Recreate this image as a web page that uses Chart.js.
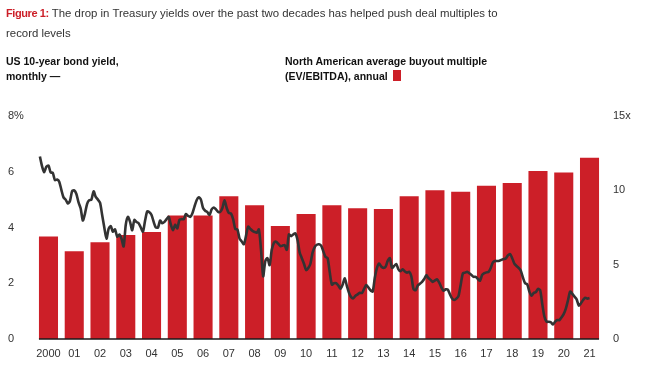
<!DOCTYPE html>
<html>
<head>
<meta charset="utf-8">
<script src="https://cdn.jsdelivr.net/npm/chart.js@4.4.0/dist/chart.umd.min.js"></script>
<style>
  body { margin: 0; background: #fff; }
  #wrap { position: relative; width: 645px; height: 369px; overflow: hidden; }
  #chart { position: absolute; left: 0; top: 0; }
  .title { position: absolute; left: 6px; top: 3px; width: 630px; font: 11.4px 'Liberation Sans', Arial, sans-serif; line-height: 20px; color: #333; }
  .title b { color: #cc1f28; font-size: 11px; letter-spacing: -0.4px; }
  .sub { position: absolute; top: 54px; font: bold 10.5px 'Liberation Sans', Arial, sans-serif; line-height: 15px; color: #111; }
  .swatch { display: inline-block; width: 8px; height: 11px; background: #cc1f28; vertical-align: -1px; margin-left: 2px; }
</style>
</head>
<body>
<div id="wrap">
  <canvas id="chart" width="645" height="369"></canvas>
  <div class="title"><b>Figure 1:</b> The drop in Treasury yields over the past two decades has helped push deal multiples to<br>record levels</div>
  <div class="sub" style="left:6px">US 10-year bond yield,<br>monthly &mdash;</div>
  <div class="sub" style="left:285px">North American average buyout multiple<br>(EV/EBITDA), annual <span class="swatch"></span></div>
</div>
<script>
// years on the category axis
const years = ['2000', '01', '02', '03', '04', '05', '06', '07', '08', '09', '10',
               '11', '12', '13', '14', '15', '16', '17', '18', '19', '20', '21'];

// buyout multiple (EV/EBITDA), one per year
const multiples = [6.9, 5.9, 6.5, 7.0, 7.2, 8.3, 8.3, 9.6, 9.0, 7.6, 8.4,
                   9.0, 8.8, 8.75, 9.6, 10.0, 9.9, 10.3, 10.5, 11.3, 11.2, 12.2];

// 10-year yield, monthly (%)
const firstMonth = 2; // months after Jan 2000
const yields = [
  6.55, 6.2, 5.98, 6.18, 6.22, 5.98, 5.96, 5.7, 5.72, 5.64, 5.35, 5.08,
  5.0, 4.86, 4.95, 5.3, 5.33, 5.2, 4.9, 4.68, 4.25, 4.5, 4.85, 4.98,
  5.0, 5.3, 5.1, 5.0, 4.89, 4.45, 4.0, 3.6, 3.95, 4.05, 3.85, 3.93,
  3.67, 3.75, 3.6, 3.32, 4.1, 4.38, 4.2, 3.9, 4.27, 4.2, 4.15, 4.0,
  3.85, 4.25, 4.58, 4.55, 4.45, 4.2, 4.0, 4.0, 4.25, 4.15, 4.2, 4.3,
  4.38, 4.1, 3.9, 4.1, 3.97, 4.28, 4.3, 4.3, 4.48, 4.42, 4.38, 4.5,
  4.75, 4.98, 5.08, 5.0, 4.7, 4.6, 4.55, 4.45, 4.65, 4.72, 4.65, 4.56,
  4.56, 4.7, 4.98, 4.7, 4.52, 4.5, 4.3, 3.95, 3.93, 3.6, 3.5, 3.4,
  3.7, 4.03, 3.95, 3.88, 3.84, 3.81, 3.93, 3.2, 2.25, 2.8, 2.9, 2.65,
  3.2, 3.45, 3.49, 3.42, 3.33, 3.35, 3.37, 3.2, 3.75, 3.69, 3.75, 3.79,
  3.55, 3.1, 2.9, 2.7, 2.47, 2.55, 2.7, 3.1, 3.3, 3.38, 3.4, 3.35,
  3.15, 2.95, 2.9, 2.4, 1.95, 2.0, 2.0, 1.92, 1.8, 1.95, 2.18, 1.9,
  1.65, 1.5, 1.46, 1.55, 1.6, 1.66, 1.65, 1.8, 1.94, 1.85, 1.75, 1.7,
  2.2, 2.55, 2.71, 2.6, 2.55, 2.59, 2.8, 2.9, 2.55, 2.62, 2.69, 2.5,
  2.43, 2.5, 2.42, 2.38, 2.41, 2.25, 1.8, 1.75, 1.92, 1.98, 2.05, 2.15,
  2.29, 2.18, 2.12, 2.05, 2.1, 2.14, 2.02, 1.85, 1.73, 1.78, 1.77, 1.6,
  1.45, 1.4, 1.45, 1.55, 1.95, 2.35, 2.38, 2.41, 2.36, 2.3, 2.23, 2.23,
  2.15, 2.09, 2.3, 2.36, 2.39, 2.41, 2.55, 2.75, 2.8, 2.8, 2.81, 2.84,
  2.87, 2.89, 3.0, 3.05, 2.9, 2.7, 2.62, 2.55, 2.45, 2.2, 2.0, 1.96,
  1.7, 1.55, 1.65, 1.68, 1.8, 1.75, 1.25, 0.8, 0.62, 0.62, 0.6, 0.52,
  0.62, 0.68, 0.68, 0.78, 0.9, 1.1, 1.4, 1.7, 1.62, 1.52, 1.42, 1.2,
  1.28, 1.4, 1.48, 1.45, 1.47
];

// tick labels
const yieldTicks = ['0', '2', '4', '6', '8%'];
const multipleTicks = ['0', '5', '10', '15x'];

const red = '#cc1f28';
const ink = '#333';

// black baseline under the bars
const baseline = {
  id: 'baseline',
  afterDatasetsDraw(chart) {
    const bars = chart.getDatasetMeta(1).data;
    if (!bars.length) return;
    const ctx = chart.ctx;
    const first = bars[0], last = bars[bars.length - 1];
    ctx.save();
    ctx.strokeStyle = '#1a1a1a';
    ctx.lineWidth = 1.6;
    ctx.beginPath();
    ctx.moveTo(first.x - first.width / 2, chart.chartArea.bottom);
    ctx.lineTo(last.x + last.width / 2, chart.chartArea.bottom);
    ctx.stroke();
    ctx.restore();
  }
};

new Chart(document.getElementById('chart'), {
  type: 'bar',
  data: {
    labels: years,
    datasets: [{
      type: 'line',
      label: 'US 10-year bond yield',
      data: yields.map((v, i) => ({ x: i + firstMonth, y: v })),
      xAxisID: 'xm',
      yAxisID: 'y',
      borderColor: ink,
      borderWidth: 2.6,
      pointRadius: 0,
      tension: 0.25,
      order: 0
    }, {
      label: 'Buyout multiple',
      data: multiples,
      xAxisID: 'x',
      yAxisID: 'y1',
      backgroundColor: red,
      grouped: false,
      barPercentage: 0.74,
      categoryPercentage: 1,
      order: 1
    }]
  },
  options: {
    responsive: false,
    animation: false,
    devicePixelRatio: 1,
    layout: { padding: { left: 8, top: 116, right: 0, bottom: 0 } },
    plugins: { legend: { display: false }, tooltip: { enabled: false } },
    scales: {
      x: {
        type: 'category',
        offset: true,
        grid: { display: false },
        border: { display: false },
        ticks: { color: ink, font: { family: 'Liberation Sans', size: 11 }, padding: 0, maxRotation: 0, autoSkip: false },
        afterFit: (s) => { s.height = 30; }
      },
      xm: {
        type: 'linear',
        display: false,
        offset: false,
        min: 0,
        max: 264
      },
      y: {
        position: 'left',
        min: 0,
        max: 8,
        grid: { display: false },
        border: { display: false },
        ticks: {
          stepSize: 2,
          color: ink,
          crossAlign: 'far',
          font: { family: 'Liberation Sans', size: 11 },
          callback: (v, i) => yieldTicks[i]
        },
        afterFit: (s) => { s.width = 27.6; }
      },
      y1: {
        position: 'right',
        min: 0,
        max: 15,
        grid: { display: false },
        border: { display: false },
        ticks: {
          stepSize: 5,
          color: ink,
          padding: 2.6,
          font: { family: 'Liberation Sans', size: 11 },
          callback: (v, i) => multipleTicks[i]
        },
        afterFit: (s) => { s.width = 42.6; }
      }
    }
  },
  plugins: [baseline]
});
</script>
</body>
</html>
